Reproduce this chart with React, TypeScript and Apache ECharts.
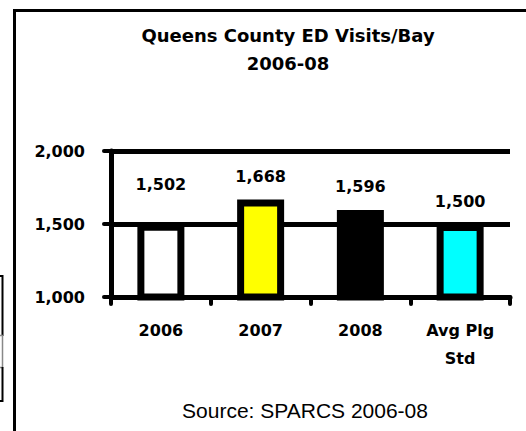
import React, { useEffect, useRef } from "react";
import * as echarts from "echarts";

const categories = ["2006", "2007", "2008", "Avg Plg\nStd"];
const values = [1502, 1668, 1596, 1500];
const barColors = ["#ffffff", "#ffff00", "#000000", "#00ffff"];
const yTicks = { min: 1000, max: 2000, interval: 500 };
const titleText = "Queens County ED Visits/Bay\n2006-08";
const sourceText = "Source: SPARCS 2006-08";

const fmt = (v: number) => v.toLocaleString("en-US");

export default function App() {
  const ref = useRef<HTMLDivElement>(null);
  useEffect(() => {
    if (!ref.current) return;
    const chart = echarts.init(ref.current, null, { renderer: "svg" });
    const bold = { fontFamily: "DejaVu Sans", fontWeight: "bold" as const, fontSize: 16, color: "#000" };
    chart.setOption({
      animation: false,
      backgroundColor: "#fff",
      title: {
        text: titleText,
        left: 288,
        top: 21,
        padding: 0,
        textAlign: "center",
        textStyle: { ...bold, fontSize: 18, lineHeight: 28 },
      },
      grid: { left: 111, right: 16, top: 151, bottom: 134, containLabel: false },
      xAxis: {
        type: "category",
        data: categories,
        axisLine: { show: true, onZero: false, lineStyle: { color: "#000", width: 5 } },
        axisTick: { show: true, length: 7, lineStyle: { color: "#000", width: 4, cap: "round" } },
        axisLabel: { ...bold, margin: 19, lineHeight: 28, interval: 0 },
        splitLine: { show: false },
      },
      yAxis: {
        type: "value",
        min: yTicks.min,
        max: yTicks.max,
        interval: yTicks.interval,
        axisLine: { show: true, onZero: false, lineStyle: { color: "#000", width: 5 } },
        axisTick: { show: true, length: 7, lineStyle: { color: "#000", width: 4, cap: "round" } },
        axisLabel: { ...bold, margin: 26, formatter: (v: number) => fmt(v) },
        splitLine: { show: true, lineStyle: { color: "#000", width: 5 } },
      },
      series: [
        {
          type: "bar",
          barWidth: 47,
          data: values.map((v, i) => ({
            value: v,
            itemStyle: { color: barColors[i], borderColor: "#000", borderWidth: 7 },
            label: i === 0 ? { offset: [0, -16] } : undefined,
          })),
          label: {
            show: true,
            position: "top",
            distance: 15,
            ...bold,
            formatter: (p: any) => fmt(p.value),
          },
        },
      ],
      graphic: [
        {
          type: "rect",
          silent: true,
          shape: { x: 14.5, y: 10.5, width: 700, height: 700 },
          style: { fill: "none", stroke: "#000", lineWidth: 3 },
        },
        {
          type: "polyline",
          silent: true,
          shape: { points: [[0, 276], [2.5, 276], [2.5, 336]] },
          style: { fill: "none", stroke: "#000", lineWidth: 2 },
        },
        {
          type: "polyline",
          silent: true,
          shape: { points: [[0, 335.5], [2.5, 335.5], [2.5, 367.5], [0, 367.5]] },
          style: { fill: "none", stroke: "#888", lineWidth: 1.5 },
        },
        {
          type: "polyline",
          silent: true,
          shape: { points: [[2.5, 367], [2.5, 401], [0, 401]] },
          style: { fill: "none", stroke: "#000", lineWidth: 2 },
        },
        {
          type: "text",
          silent: true,
          x: 305,
          y: 410,
          style: {
            text: sourceText,
            fill: "#000",
            font: "21px 'Liberation Sans', Arial, sans-serif",
            align: "center",
            verticalAlign: "middle",
          },
        },
      ],
    });
    return () => chart.dispose();
  }, []);
  return (
    <div
      ref={ref}
      style={{ position: "absolute", left: 0, top: 0, width: 526, height: 431 }}
    />
  );
}
